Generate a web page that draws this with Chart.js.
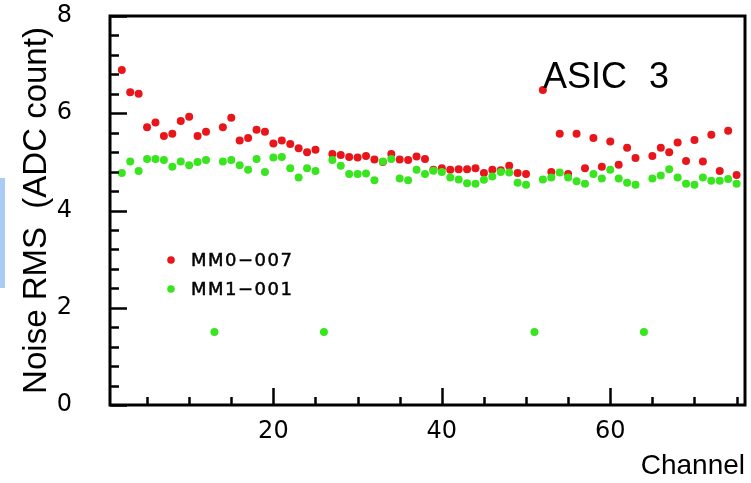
<!DOCTYPE html>
<html>
<head>
<meta charset="utf-8">
<title>ASIC 3 noise</title>
<script src="https://cdn.jsdelivr.net/npm/chart.js@4.4.0/dist/chart.umd.min.js"></script>
<style>
html, body { margin: 0; padding: 0; background: #fff; }
#wrap { position: relative; width: 751px; height: 483px; }
#edge { position: absolute; left: 0; top: 178px; width: 5px; height: 110px; background: #a9cbf5; }
</style>
</head>
<body>
<div id="wrap">
  <canvas id="myChart" width="751" height="483"></canvas>
  <div id="edge"></div>
</div>
<script>
// channels 2..75 (13, 26, 51, 64 are the dead ones)
var channels = [2,3,4,5,6,7,8,9,10,11,12,13,14,15,16,17,18,19,20,21,22,23,24,25,26,27,28,29,30,31,32,33,34,35,36,37,38,
                39,40,41,42,43,44,45,46,47,48,49,50,51,52,53,54,55,56,57,58,59,60,61,62,63,64,65,66,67,68,69,70,71,72,73,74,75];

var mm0_007 = [6.89,6.43,6.40,5.71,5.81,5.53,5.58,5.84,5.93,5.53,5.62,null,5.71,5.91,5.44,5.49,5.66,5.62,5.38,5.44,5.37,5.28,5.20,5.25,null,
               5.16,5.14,5.10,5.09,5.12,5.05,5.00,5.16,5.05,5.04,5.11,5.06,4.84,4.87,4.84,4.85,4.85,4.87,4.77,4.84,4.83,4.92,4.77,4.75,null,
               6.48,4.79,5.58,4.75,5.58,4.87,5.49,4.90,5.42,4.94,5.29,5.08,null,5.12,5.29,5.20,5.40,5.02,5.45,5.01,5.56,4.81,5.64,4.73];

var mm1_001 = [4.77,5.01,4.81,5.06,5.06,5.04,4.90,5.01,4.93,5.00,5.04,1.50,5.01,5.04,4.93,4.84,5.06,4.79,5.09,5.10,4.87,4.68,4.87,4.81,1.50,
               5.04,4.92,4.75,4.75,4.76,4.62,5.01,5.06,4.66,4.62,4.84,4.75,4.82,4.79,4.68,4.64,4.56,4.55,4.63,4.70,4.79,4.78,4.57,4.53,1.50,
               4.64,4.68,4.78,4.68,4.60,4.55,4.75,4.66,4.84,4.66,4.57,4.53,1.50,4.66,4.72,4.85,4.68,4.55,4.53,4.68,4.61,4.61,4.65,4.55];

var xTickLabels = [20, 40, 60];
var yTickLabels = [0, 2, 4, 6, 8];

function toPoints(vals) {
    var pts = [];
    for (var i = 0; i < channels.length; i++) {
        if (vals[i] !== null) pts.push({x: channels[i], y: vals[i]});
    }
    return pts;
}

// frame, inward tick marks, legend and the ASIC label
var framePlugin = {
    id: "frame",
    afterDraw: function(chart) {
        var ctx = chart.ctx;
        var a = chart.chartArea;
        var xs = chart.scales.x, ys = chart.scales.y;
        ctx.save();
        ctx.strokeStyle = "#000";
        ctx.lineWidth = 2.5;
        var v, p, len;
        ctx.beginPath();
        for (v = 0; v <= 8.001; v += 0.4) {
            p = Math.round(ys.getPixelForValue(v)) + 0.5;
            len = (Math.abs(v / 2 - Math.round(v / 2)) < 0.01) ? 17 : 9;
            ctx.moveTo(a.left, p);
            ctx.lineTo(a.left + len, p);
        }
        for (v = 5; v <= 75; v += 5) {
            p = Math.round(xs.getPixelForValue(v)) + 0.5;
            len = (v % 20 === 0) ? 17 : 8;
            ctx.moveTo(p, a.bottom);
            ctx.lineTo(p, a.bottom - len);
        }
        ctx.stroke();
        ctx.lineWidth = 3;
        ctx.strokeRect(a.left, a.top, a.right - a.left, a.bottom - a.top);

        // legend
        var ds = chart.data.datasets;
        var rows = [260, 289];
        ctx.font = "18px 'DejaVu Sans'";
        ctx.letterSpacing = "1.5px";
        ctx.textBaseline = "middle";
        ctx.textAlign = "left";
        for (var i = 0; i < ds.length; i++) {
            ctx.fillStyle = ds[i].backgroundColor;
            ctx.beginPath();
            ctx.arc(171, rows[i], 3.8, 0, Math.PI * 2);
            ctx.fill();
            ctx.fillStyle = "#000";
            ctx.strokeStyle = "#000";
            ctx.lineWidth = 0.5;
            ctx.fillText(ds[i].label, 191, rows[i] + 1);
            ctx.strokeText(ds[i].label, 191, rows[i] + 1);
        }

        ctx.letterSpacing = "0px";
        ctx.font = "36px 'Liberation Sans'";
        ctx.wordSpacing = "12px";
        ctx.textBaseline = "alphabetic";
        ctx.fillStyle = "#000";
        ctx.fillText("ASIC 3", 543, 88);
        ctx.restore();
    }
};

var myChart = document.getElementById("myChart").getContext("2d");

var scatterChart = new Chart(myChart, {
    type: "scatter",
    data: {
        datasets: [{
            label: "MM0\u2212007",
            data: toPoints(mm0_007),
            backgroundColor: "#e8161b",
            pointRadius: 4,
            pointBorderWidth: 0,
            order: 2
        }, {
            label: "MM1\u2212001",
            data: toPoints(mm1_001),
            backgroundColor: "#38e51f",
            pointRadius: 4,
            pointBorderWidth: 0,
            order: 1
        }]
    },
    options: {
        responsive: false,
        animation: false,
        layout: { padding: { left: 0, right: 6, top: 16, bottom: 0 } },
        plugins: {
            legend: { display: false },
            tooltip: { enabled: false }
        },
        scales: {
            x: {
                type: "linear",
                min: 0.6,
                max: 76,
                afterBuildTicks: function(s) { s.ticks = xTickLabels.map(function(v) { return {value: v}; }); },
                afterFit: function(s) { s.height = 78; s.paddingLeft = 0; s.paddingRight = 0; },
                grid: { display: false },
                border: { display: false },
                ticks: { color: "#000", padding: 4, maxRotation: 0, font: { family: "DejaVu Sans", size: 24 } },
                title: {
                    display: true,
                    text: "Channel",
                    align: "end",
                    color: "#000",
                    padding: { top: 0, bottom: 0 },
                    font: { family: "Liberation Sans", size: 28 }
                }
            },
            y: {
                min: 0,
                max: 8,
                afterBuildTicks: function(s) { s.ticks = yTickLabels.map(function(v) { return {value: v}; }); },
                afterFit: function(s) { s.width = 110; s.paddingTop = 0; s.paddingBottom = 0; },
                grid: { display: false },
                border: { display: false },
                ticks: { color: "#000", padding: 30, font: { family: "DejaVu Sans", size: 24 } },
                title: {
                    display: true,
                    text: "Noise RMS  (ADC count)",
                    color: "#000",
                    padding: { top: 17, bottom: 0 },
                    font: { family: "Liberation Sans", size: 33 }
                }
            }
        }
    },
    plugins: [framePlugin]
});
</script>
</body>
</html>
